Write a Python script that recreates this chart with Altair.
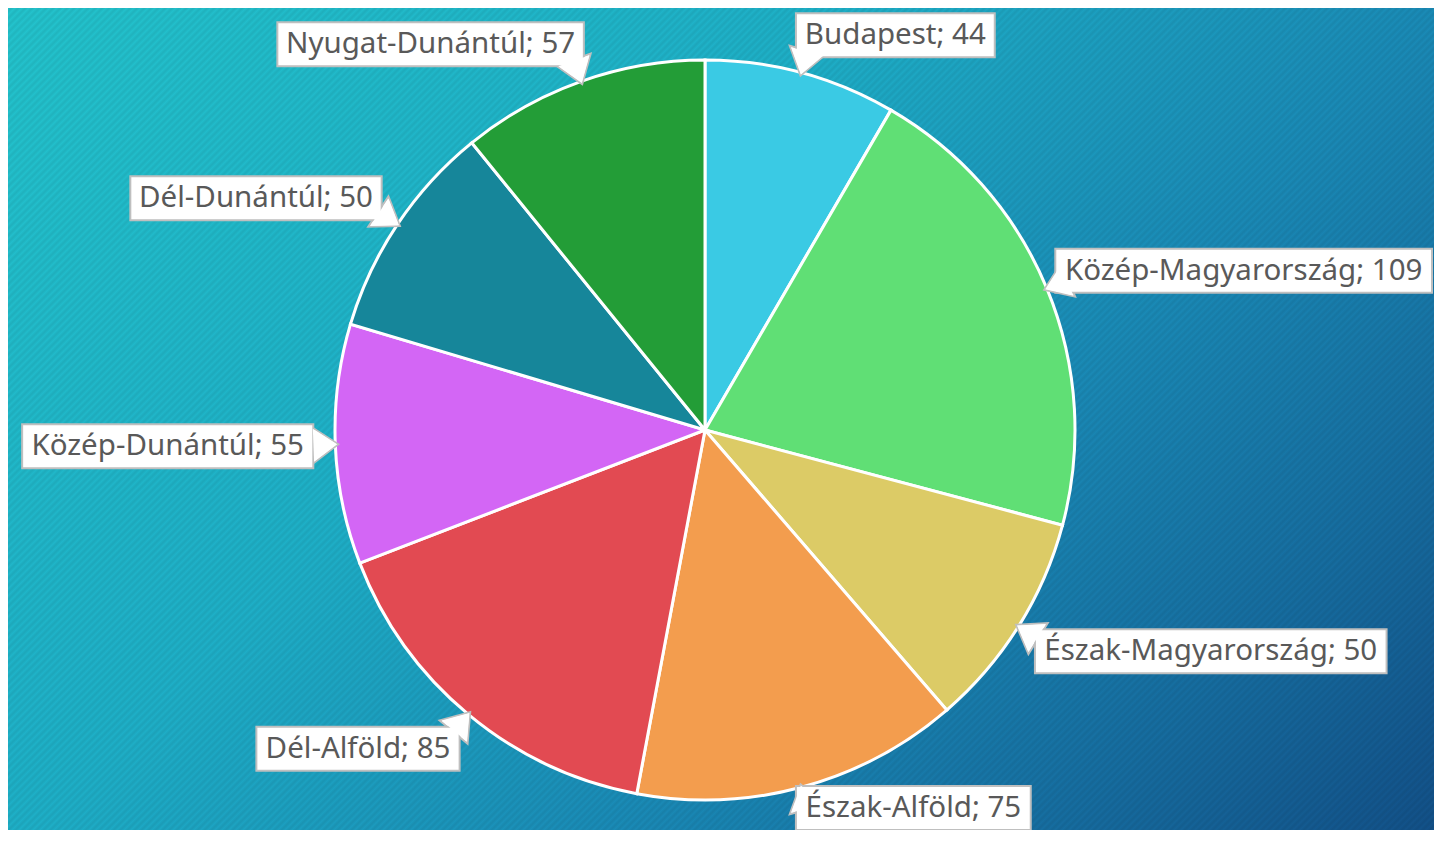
import altair as alt
import pandas as pd

# ---- data ----
regions = ["Budapest", "Közép-Magyarország", "Észak-Magyarország", "Észak-Alföld",
           "Dél-Alföld", "Közép-Dunántúl", "Dél-Dunántúl", "Nyugat-Dunántúl"]
values = [44, 109, 50, 75, 85, 55, 50, 57]
colors = ["#3ACAE4", "#60DF75", "#DCCB66", "#F39D4E",
          "#E24A52", "#D366F5", "#16869A", "#239D37"]

# ---- layout constants ----
W, H = 1426, 822
CX, CY = 697, 422
R = 370
R_LAB = 386
R_PTR = 380
FONT = "Noto Sans"
FS = 29.5

# rough glyph advance widths (em) for box sizing
CW = {"B": .64, "K": .62, "M": .90, "D": .71, "A": .64, "É": .56, "E": .56, "N": .75,
      ";": .27, " ": .26, "-": .32, "a": .56, "b": .62, "d": .62, "e": .56, "g": .62,
      "k": .53, "l": .27, "n": .62, "o": .61, "p": .62, "r": .41, "s": .48, "t": .36,
      "u": .62, "y": .50, "z": .48, "á": .56, "é": .56, "ö": .61, "ü": .62, "ó": .61,
      "ú": .62, "f": .34}

def text_width(s):
    return sum(CW.get(ch, 0.57) for ch in s) * FS

labels = [f"{r}; {v}" for r, v in zip(regions, values)]
df = pd.DataFrame({
    "region": regions, "value": values, "idx": list(range(len(regions))),
    "label": labels, "w": [text_width(l) + 18 for l in labels],
})

# ---- background gradient with subtle diagonal stripes ----
def hex2rgb(h):
    h = h.lstrip("#")
    return tuple(int(h[i:i + 2], 16) for i in (0, 2, 4))

def rgb2hex(c):
    return "#%02x%02x%02x" % tuple(max(0, min(255, int(round(v)))) for v in c)

anchors = [(0.0, "#23C3CC"), (0.37, "#1EAFC7"), (0.63, "#1A8AB6"),
           (0.82, "#166DA0"), (1.0, "#124E86")]

def base_color(t):
    for (t0, c0), (t1, c1) in zip(anchors[:-1], anchors[1:]):
        if t0 <= t <= t1:
            f = (t - t0) / (t1 - t0)
            a, b = hex2rgb(c0), hex2rgb(c1)
            return tuple(a[i] + (b[i] - a[i]) * f for i in range(3))
    return hex2rgb(anchors[-1][1])

k = 1.2
L = k * (W * W + H * H) / W
period = 7.0 / L
stops = []
t = 0.0
n = 0
while t <= 1.0:
    c = base_color(t)
    if n % 2 == 1:
        c = tuple(v * 0.93 for v in c)
    stops.append({"offset": round(t, 5), "color": rgb2hex(c)})
    t += period / 2
    n += 1
grad = {"gradient": "linear", "x1": 0, "y1": 0, "x2": k, "y2": k * H / W, "stops": stops}

bg = alt.Chart(alt.Data(values=[{}])).mark_rect(color=grad).encode(
    x=alt.value(0), x2=alt.value(W), y=alt.value(0), y2=alt.value(H)
)

# ---- pie ----
pie = alt.Chart(df).mark_arc(outerRadius=R, stroke="white", strokeWidth=3).encode(
    theta=alt.Theta("value:Q", stack=True),
    color=alt.Color("region:N", scale=alt.Scale(domain=regions, range=colors), legend=None),
    order=alt.Order("idx:Q", sort="ascending"),
    x=alt.value(CX),
    y=alt.value(CY),
)

# ---- label geometry derived from the data ----
lab = (
    alt.Chart(df)
    .transform_joinaggregate(total="sum(value)")
    .transform_window(cum="sum(value)", sort=[alt.SortField("idx")], frame=[None, 0])
    .transform_calculate(mid="2*PI*(datum.cum - datum.value/2)/datum.total")
    .transform_calculate(s="sin(datum.mid)", c="cos(datum.mid)")
    .transform_calculate(
        ax=f"{CX} + {R_LAB}*datum.s",
        ay=f"{CY} - {R_LAB}*datum.c",
        px=f"{CX} + {R_PTR}*datum.s",
        py=f"{CY} - {R_PTR}*datum.c",
        ang="(datum.mid*180/PI + 180) % 360",
        h="44",
    )
    .transform_calculate(
        bx0="datum.ax + (datum.s >= 0 ? 1 : -1)*(datum.w/2 - 15*(1 - abs(datum.s)) + 6*abs(datum.s))",
        by=f"min(datum.ay - (datum.h/2)*clamp(1.4*datum.c, -1, 1), {H} - 22)",
    )
    .transform_calculate(bx=f"clamp(datum.bx0, datum.w/2 + 2, {W} - datum.w/2 - 2)")
    .transform_calculate(
        x1="datum.bx - datum.w/2", x2="datum.bx + datum.w/2",
        y1="datum.by - datum.h/2", y2="datum.by + datum.h/2",
    )
)

ptr_shape = "M 0 -1 L 1.4 1 L -1.4 1 Z"
ptr_under = lab.mark_point(shape=ptr_shape, filled=True, fill="white", stroke="#BFBFBF",
                           strokeWidth=2, size=676, opacity=1).encode(
    x=alt.X("px:Q", scale=None), y=alt.Y("py:Q", scale=None), angle=alt.Angle("ang:Q", scale=None)
)
boxes = lab.mark_rect(fill="white", stroke="#BFBFBF", strokeWidth=2).encode(
    x=alt.X("x1:Q", scale=None), x2="x2:Q", y=alt.Y("y1:Q", scale=None), y2="y2:Q"
)
ptr_over = lab.mark_point(shape=ptr_shape, filled=True, fill="white", strokeWidth=0,
                          size=560, opacity=1).encode(
    x=alt.X("px:Q", scale=None), y=alt.Y("py:Q", scale=None), angle=alt.Angle("ang:Q", scale=None)
)
texts = lab.mark_text(font=FONT, fontSize=FS, color="#595959", align="center", baseline="middle").encode(
    x=alt.X("bx:Q", scale=None), y=alt.Y("by:Q", scale=None), text="label:N"
)

chart = (
    alt.layer(bg, pie, ptr_under, boxes, ptr_over, texts)
    .properties(width=W, height=H, padding=0, autosize=alt.AutoSizeParams(type="none"))
    .configure_view(stroke=None)
    .configure(background="transparent")
)

chart.save("out.html", embed_options={"renderer": "svg", "actions": False})
